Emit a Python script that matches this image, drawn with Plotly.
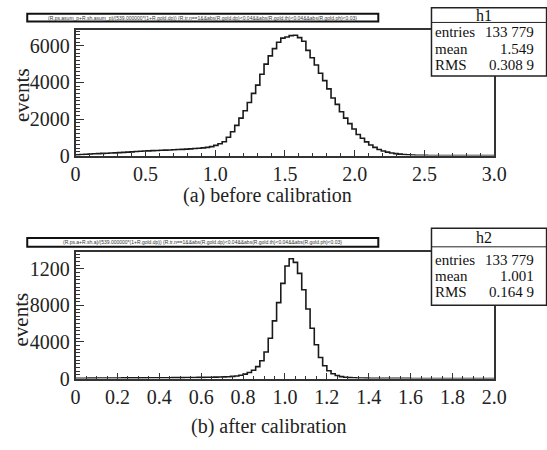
import plotly.graph_objects as go

W, H = 547, 450

# ---------------- data ----------------
h1_range = (0.0, 3.0)
h1_counts = [
    40, 60, 75, 90, 100, 110, 120, 130, 140, 150,
    160, 175, 190, 205, 220, 235, 250, 260, 270, 280,
    290, 300, 310, 320, 330, 340, 355, 370, 385, 400,
    420, 450, 490, 560, 650, 760, 1000, 1300, 1650, 2050,
    2450, 2900, 3400, 3850, 4450, 5000, 5450, 5850, 6200, 6420,
    6480, 6560, 6580, 6450, 6250, 5750, 5350, 4950, 4500, 4100,
    3650, 3150, 2800, 2400, 2050, 1750, 1450, 1150, 950, 750,
    580, 450, 330, 250, 190, 140, 110, 80, 60, 45,
    30, 20, 15, 10, 8, 5, 4, 3, 2, 1,
    1, 1, 0, 0, 0, 0, 0, 0, 0, 0,
]
h2_range = (0.0, 2.0)
h2_counts = [
    20, 30, 35, 40, 45, 50, 50, 55, 60, 60,
    60, 65, 65, 70, 70, 75, 75, 80, 80, 85,
    85, 90, 90, 95, 100, 100, 105, 110, 115, 120,
    125, 130, 140, 150, 160, 180, 200, 230, 280, 360,
    480, 650, 900, 1300, 1950, 2900, 4400, 6300, 8300, 10400,
    12300, 13100, 12700, 11500, 9700, 7600, 5500, 3700, 2300, 1400,
    850, 520, 330, 210, 140, 100, 80, 60, 50, 40,
    35, 30, 25, 22, 20, 18, 15, 13, 12, 10,
    9, 8, 7, 6, 5, 5, 4, 4, 3, 3,
    3, 2, 2, 2, 2, 1, 1, 1, 1, 1,
]

x1_ticks = [0, 0.5, 1.0, 1.5, 2.0, 2.5, 3.0]
x1_text = ["0", "0.5", "1.0", "1.5", "2.0", "2.5", "3.0"]
y1_ticks = [0, 2000, 4000, 6000]
y1_text = ["0", "2000", "4000", "6000"]
x2_ticks = [0, 0.2, 0.4, 0.6, 0.8, 1.0, 1.2, 1.4, 1.6, 1.8, 2.0]
x2_text = ["0", "0.2", "0.4", "0.6", "0.8", "1.0", "1.2", "1.4", "1.6", "1.8", "2.0"]
y2_ticks = [0, 4000, 8000, 12000]
y2_text = ["0", "4000", "8000", "1200"]

stats1 = [("entries", "133 779"), ("mean", "1.549"), ("RMS", "0.308 9")]
stats2 = [("entries", "133 779"), ("mean", "1.001"), ("RMS", "0.164 9")]
title1 = "(R.ps.asum_p+R.sh.asum_p)/(539.000000*(1+R.gold.dp)) {R.tr.n==1&&abs(R.gold.dp)<0.04&&abs(R.gold.th)<0.04&&abs(R.gold.ph)<0.03}"
title2 = "(R.ps.a+R.sh.a)/(539.000000*(1+R.gold.dp)) {R.tr.n==1&&abs(R.gold.dp)<0.04&&abs(R.gold.th)<0.04&&abs(R.gold.ph)<0.03}"
caption1 = "(a) before calibration"
caption2 = "(b) after calibration"


def step_xy(rng, counts):
    n = len(counts)
    bw = (rng[1] - rng[0]) / n
    edges = [rng[0] + bw * i for i in range(n + 1)]
    xs = [edges[0]] + edges[:-1] + [edges[-1], edges[-1]]
    ys = [0] + list(counts) + [counts[-1], 0]
    return xs, ys


def px(x):
    return x / W


def py(y):
    return 1 - y / H


SERIF = "Liberation Serif, Times New Roman, serif"
LINE = "#1a1a1a"

fig = go.Figure()
xs, ys = step_xy(h1_range, h1_counts)
fig.add_trace(go.Scatter(x=xs, y=ys, mode="lines", line=dict(color=LINE, width=1.6, shape="hv"),
                         xaxis="x", yaxis="y", showlegend=False, hoverinfo="skip"))
xs, ys = step_xy(h2_range, h2_counts)
fig.add_trace(go.Scatter(x=xs, y=ys, mode="lines", line=dict(color=LINE, width=1.6, shape="hv"),
                         xaxis="x2", yaxis="y2", showlegend=False, hoverinfo="skip"))

xdom = [px(73), px(506)]
axis_common = dict(showgrid=False, zeroline=False, showline=True, linecolor="#333", linewidth=1.5,
                   mirror=True, ticks="inside", tickcolor="#333", tickfont=dict(family=SERIF, size=20, color="#222"))

fig.update_layout(
    width=W, height=H, margin=dict(l=0, r=0, t=0, b=0),
    paper_bgcolor="white", plot_bgcolor="white",
    xaxis=dict(domain=xdom, anchor="y", range=list(h1_range), tickvals=x1_ticks, ticktext=x1_text,
               ticklen=6, minor=dict(ticks="inside", dtick=0.1, ticklen=3, tickcolor="#333"), **axis_common),
    yaxis=dict(domain=[py(159.5), py(30.5)], anchor="x", range=[0, 6880], tickvals=y1_ticks, ticktext=y1_text,
               ticklen=9, minor=dict(ticks="inside", dtick=200, ticklen=5, tickcolor="#333"), **axis_common),
    xaxis2=dict(domain=xdom, anchor="y2", range=list(h2_range), tickvals=x2_ticks, ticktext=x2_text,
                ticklen=6, minor=dict(ticks="inside", dtick=0.05, ticklen=3, tickcolor="#333"), **axis_common),
    yaxis2=dict(domain=[py(388), py(258)], anchor="x2", range=[0, 13870], tickvals=y2_ticks, ticktext=y2_text,
                ticklen=9, minor=dict(ticks="inside", dtick=400, ticklen=5, tickcolor="#333"), **axis_common),
)

shapes = []
annots = []
SFONT = 15


def stat_box(top, div, bottom, name, rows, row_ys):
    shapes.append(dict(type="rect", xref="paper", yref="paper", x0=px(441), x1=px(560), y0=py(bottom), y1=py(top),
                       line=dict(color="#222", width=1.5), fillcolor="white", layer="above"))
    shapes.append(dict(type="line", xref="paper", yref="paper", x0=px(441), x1=px(560), y0=py(div), y1=py(div),
                       line=dict(color="#222", width=1), layer="above"))
    annots.append(dict(xref="paper", yref="paper", x=px(495), y=py((top + div) / 2), text=name, showarrow=False,
                       font=dict(family=SERIF, size=16, color="#111"), xanchor="center", yanchor="middle"))
    for (lab, val), yy in zip(rows, row_ys):
        annots.append(dict(xref="paper", yref="paper", x=px(443), y=py(yy), text=lab, showarrow=False,
                           font=dict(family=SERIF, size=SFONT, color="#111"), xanchor="left", yanchor="middle"))
        annots.append(dict(xref="paper", yref="paper", x=px(549), y=py(yy), text=val, showarrow=False,
                           font=dict(family=SERIF, size=SFONT, color="#111"), xanchor="right", yanchor="middle"))


def title_box(top, bottom, text):
    shapes.append(dict(type="rect", xref="paper", yref="paper", x0=px(23), x1=px(386), y0=py(bottom), y1=py(top),
                       line=dict(color="#111", width=2), fillcolor="white", layer="above"))
    annots.append(dict(xref="paper", yref="paper", x=px(204.5), y=py((top + bottom) / 2), text=text, showarrow=False,
                       font=dict(family="Arial", size=5, color="#333"), xanchor="center", yanchor="middle"))


title_box(14, 22, title1)
title_box(244, 253, title2)
stat_box(8, 23, 78, "h1", stats1, [33, 50, 67])
stat_box(234, 253, 313, "h2", stats2, [267, 283, 299])

for yc in (97, 327):
    annots.append(dict(xref="paper", yref="paper", x=px(17), y=py(yc), text="events", textangle=-90,
                       showarrow=False, font=dict(family=SERIF, size=21, color="#222"),
                       xanchor="center", yanchor="middle"))
annots.append(dict(xref="paper", yref="paper", x=px(271), y=py(200), text=caption1, showarrow=False,
                   font=dict(family=SERIF, size=20, color="#222"), xanchor="center", yanchor="middle"))
annots.append(dict(xref="paper", yref="paper", x=px(272), y=py(437), text=caption2, showarrow=False,
                   font=dict(family=SERIF, size=20, color="#222"), xanchor="center", yanchor="middle"))

fig.update_layout(shapes=shapes, annotations=annots)
fig.write_html("out.html")
